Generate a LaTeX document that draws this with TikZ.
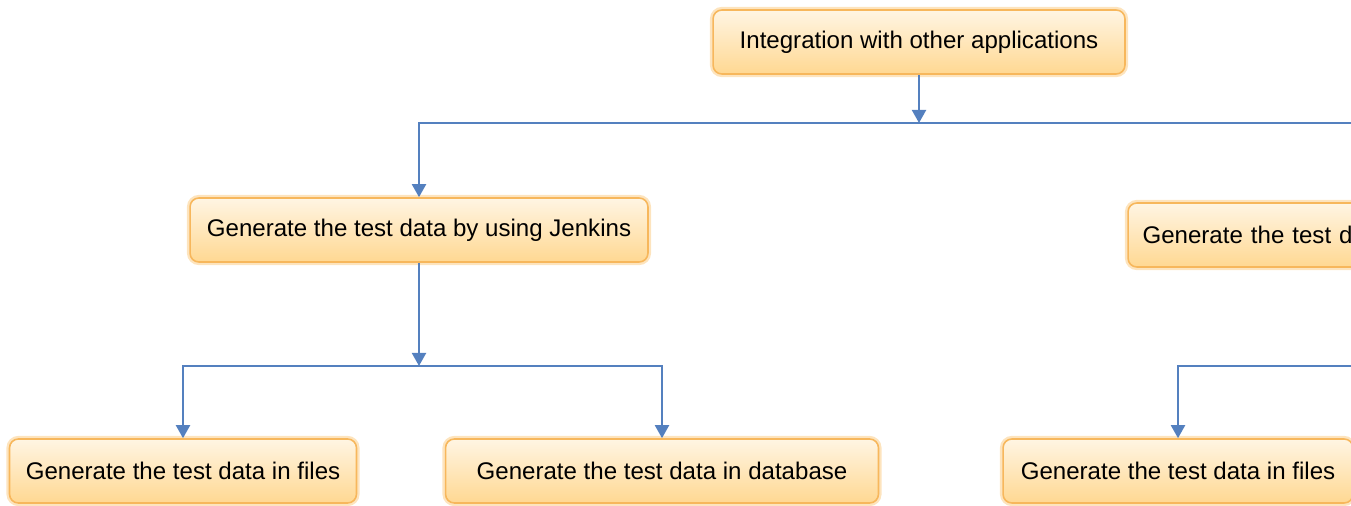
\documentclass[tikz,border=0pt]{standalone}
\usepackage{fontspec}
\setmainfont{Liberation Sans}
\usetikzlibrary{positioning,arrows.meta}
\definecolor{boxtop}{HTML}{FFF5E3}
\definecolor{boxbot}{HTML}{FFD892}
\definecolor{boxline}{HTML}{F7B75C}
\definecolor{boxglow}{HTML}{FDE4BE}
\definecolor{linkblue}{HTML}{5480BF}

\begin{document}
\begin{tikzpicture}[x=0.02cm,y=-0.02cm,>={Triangle[width=8pt,length=7.5pt]},
    task/.style={rectangle,rounded corners=5pt,top color=boxtop,bottom color=boxbot,
      draw=boxline,line width=0.9pt,preaction={draw=boxglow,line width=3.5pt},
      minimum height=1.28cm,font=\fontsize{13.7}{16}\selectfont},
    link/.style={->,draw=linkblue,line width=1.4pt}]
  \clip (0,0) rectangle (1351,506);

  \node[task,minimum width=8.24cm] (integ) at (919,42) {Integration with other applications};
  \node[task,minimum width=9.16cm] (jenkins) at (419,230) {Generate the test data by using Jenkins};
  \node[task,minimum width=9.68cm,text width=9.1cm,align=left] (other) at (1370,235) {Generate the test data};
  \node[task,minimum width=6.94cm] (files1) at (183,471) {Generate the test data in files};
  \node[task,minimum width=8.66cm] (dbase) at (662,471) {Generate the test data in database};
  \node[task,minimum width=7cm] (files2) at (1178,471) {Generate the test data in files};

  \coordinate (bus1) at (919,123);
  \coordinate (bus2) at (419,366);
  \coordinate (bus3) at (1370,366);

  \draw[link] (integ) -- (bus1);
  \draw[link] (bus1) -| (jenkins);
  \draw[link] (bus1) -| (other);
  \draw[link] (jenkins) -- (bus2);
  \draw[link] (bus2) -| (files1);
  \draw[link] (bus2) -| (dbase);
  \draw[link] (other) -- (bus3);
  \draw[link] (bus3) -| (files2);
\end{tikzpicture}
\end{document}
